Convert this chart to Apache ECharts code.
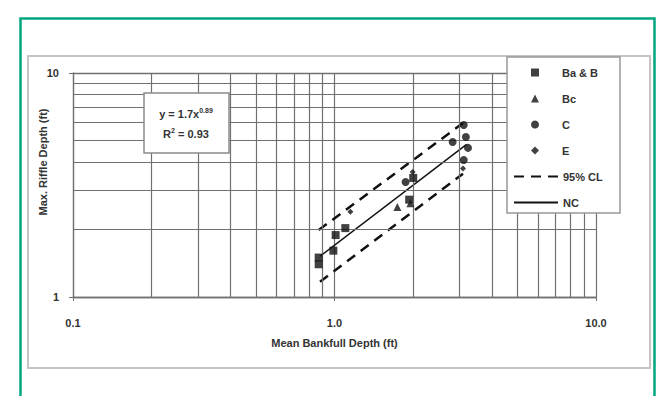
<!DOCTYPE html>
<html>
<head>
<meta charset="utf-8">
<script src="https://cdn.jsdelivr.net/npm/echarts@6/dist/echarts.min.js"></script>
<style>
  html, body { margin: 0; padding: 0; background: #fff; }
  #chart { width: 670px; height: 396px; }
</style>
</head>
<body>
<div id="chart"></div>
<script>
// 数据
const baB = [[0.87, 1.50], [0.87, 1.40], [0.99, 1.61], [1.01, 1.89], [1.10, 2.03], [1.93, 2.72], [2.0, 3.4]];
const bc = [[1.74, 2.52], [1.95, 2.62]];
const cPts = [[3.12, 5.86], [3.18, 5.18], [2.83, 4.92], [3.24, 4.63], [3.12, 4.09], [1.87, 3.26]];
const ePts = [[1.15, 2.40], [1.99, 3.61], [3.10, 3.75]];
const ncLine = [[0.88, 1.52], [3.2, 4.8]];
const clUpper = [[0.87, 1.99], [3.1, 5.98]];
const clLower = [[0.88, 1.17], [3.1, 3.55]];

// 网格线位置
const xMinorGrid = [0.2, 0.3, 0.4, 0.5, 0.6, 0.7, 0.8, 0.9, 2, 3, 4, 5, 6, 7, 8, 9];
const yMinorGrid = [2, 3, 4, 5, 6, 7, 8, 9];

const FONT = '"Liberation Sans", Arial, sans-serif';
const INK = '#111';
const GRID = '#707070';

const chart = echarts.init(document.getElementById('chart'), null, { renderer: 'svg' });

const textBase = { fontFamily: FONT, fontWeight: 'bold', fontSize: 11, color: '#333' };

const option = {
  animation: false,
  grid: { left: 73, right: 74, top: 73, bottom: 99 },
  xAxis: {
    type: 'log',
    logBase: 10,
    min: 0.1,
    max: 10,
    axisLine: { show: true, lineStyle: { color: GRID, width: 1.3 } },
    axisTick: { show: true, length: 4, lineStyle: { color: GRID } },
    axisLabel: { ...textBase, margin: 20, formatter: v => v.toFixed(1) },
    splitLine: { show: true, lineStyle: { color: GRID, width: 1.2 } },
    name: 'Mean Bankfull Depth (ft)',
    nameLocation: 'middle',
    nameGap: 40,
    nameTextStyle: { ...textBase }
  },
  yAxis: {
    type: 'log',
    logBase: 10,
    min: 1,
    max: 10,
    axisLine: { show: true, lineStyle: { color: GRID, width: 1.3 } },
    axisTick: { show: true, length: 4, lineStyle: { color: GRID } },
    axisLabel: { ...textBase, margin: 14, formatter: v => String(Math.round(v)) },
    splitLine: { show: true, lineStyle: { color: GRID, width: 1.3 } }
  },
  // 两个图例：散点 + 线
  legend: [
    {
      orient: 'vertical',
      left: 531,
      top: 67,
      padding: 0,
      itemGap: 15,
      itemWidth: 8,
      itemHeight: 8,
      z: 30,
      textStyle: { ...textBase, padding: [0, 0, 0, 18] },
      data: ['Ba & B', 'Bc', 'C', 'E']
    },
    {
      orient: 'vertical',
      left: 513,
      top: 171,
      padding: 0,
      itemGap: 15,
      itemWidth: 44,
      itemHeight: 10,
      z: 30,
      textStyle: { ...textBase },
      data: [
        { name: '95% CL', itemStyle: { opacity: 0 } },
        { name: 'NC', itemStyle: { opacity: 0 } }
      ]
    }
  ],
  graphic: [
    // 绿色外框
    { type: 'rect', z: 0, silent: true, shape: { x: 20.5, y: 18.5, width: 634, height: 390 },
      style: { fill: 'none', stroke: '#00a67e', lineWidth: 2.5 } },
    // 灰色内框
    { type: 'rect', z: 0, silent: true, shape: { x: 28, y: 56, width: 622, height: 312 },
      style: { fill: 'none', stroke: '#c4c4c4', lineWidth: 2 } },
    // 图例框
    { type: 'rect', z: 20, silent: true, shape: { x: 507, y: 57, width: 113, height: 156 },
      style: { fill: '#fff', stroke: '#999', lineWidth: 1.5 } },
    // Y 轴标题
    { type: 'text', z: 10, x: 43, y: 162, rotation: Math.PI / 2,
      style: { text: 'Max. Riffle Depth (ft)', font: 'bold 11px ' + FONT, fill: '#333',
        align: 'center', verticalAlign: 'middle' } },
    // 方程框
    { type: 'group', z: 100, children: [
      { type: 'rect', z: 100, shape: { x: 144, y: 93, width: 85, height: 60 },
        style: { fill: '#fff', stroke: '#8a8a8a', lineWidth: 1.5 } },
      { type: 'text', z: 101, x: 186, y: 114,
        style: { text: '{b|y = 1.7x}{s|0.89}', align: 'center', verticalAlign: 'middle',
          rich: { b: { fontFamily: FONT, fontWeight: 'bold', fontSize: 11, fill: '#333' },
            s: { fontFamily: FONT, fontWeight: 'bold', fontSize: 7, fill: '#333', padding: [0, 0, 8, 0] } } } },
      { type: 'text', z: 101, x: 186, y: 134,
        style: { text: '{b|R}{s|2}{b| = 0.93}', align: 'center', verticalAlign: 'middle',
          rich: { b: { fontFamily: FONT, fontWeight: 'bold', fontSize: 11, fill: '#333' },
            s: { fontFamily: FONT, fontWeight: 'bold', fontSize: 7, fill: '#333', padding: [0, 0, 8, 0] } } } }
    ] }
  ],
  series: [
    {
      name: 'grid',
      type: 'line',
      data: [],
      z: 1,
      silent: true,
      markLine: {
        silent: true,
        symbol: ['none', 'none'],
        label: { show: false },
        lineStyle: { type: 'solid', color: GRID, width: 1.2 },
        data: [
          ...xMinorGrid.map(v => ({ xAxis: v })),
          ...yMinorGrid.map(v => ({ yAxis: v }))
        ]
      }
    },
    { name: 'Ba & B', type: 'scatter', data: baB, symbol: 'rect', symbolSize: 8, z: 5, itemStyle: { color: INK } },
    { name: 'Bc', type: 'scatter', data: bc, symbol: 'triangle', symbolSize: 8, z: 5, itemStyle: { color: INK } },
    { name: 'C', type: 'scatter', data: cPts, symbol: 'circle', symbolSize: 8, z: 5, itemStyle: { color: INK } },
    { name: 'E', type: 'scatter', data: ePts, symbol: 'diamond', symbolSize: 6, z: 5, itemStyle: { color: INK } },
    { name: '95% CL', type: 'line', data: clUpper, symbol: 'none', z: 4,
      lineStyle: { color: INK, width: 2.5, type: [10, 7] }, itemStyle: { color: INK } },
    { name: '95% CL', type: 'line', data: clLower, symbol: 'none', z: 4,
      lineStyle: { color: INK, width: 2.5, type: [10, 7] }, itemStyle: { color: INK } },
    { name: 'NC', type: 'line', data: ncLine, symbol: 'none', z: 4,
      lineStyle: { color: INK, width: 1.5 }, itemStyle: { color: INK } }
  ]
};

chart.setOption(option);
</script>
</body>
</html>
